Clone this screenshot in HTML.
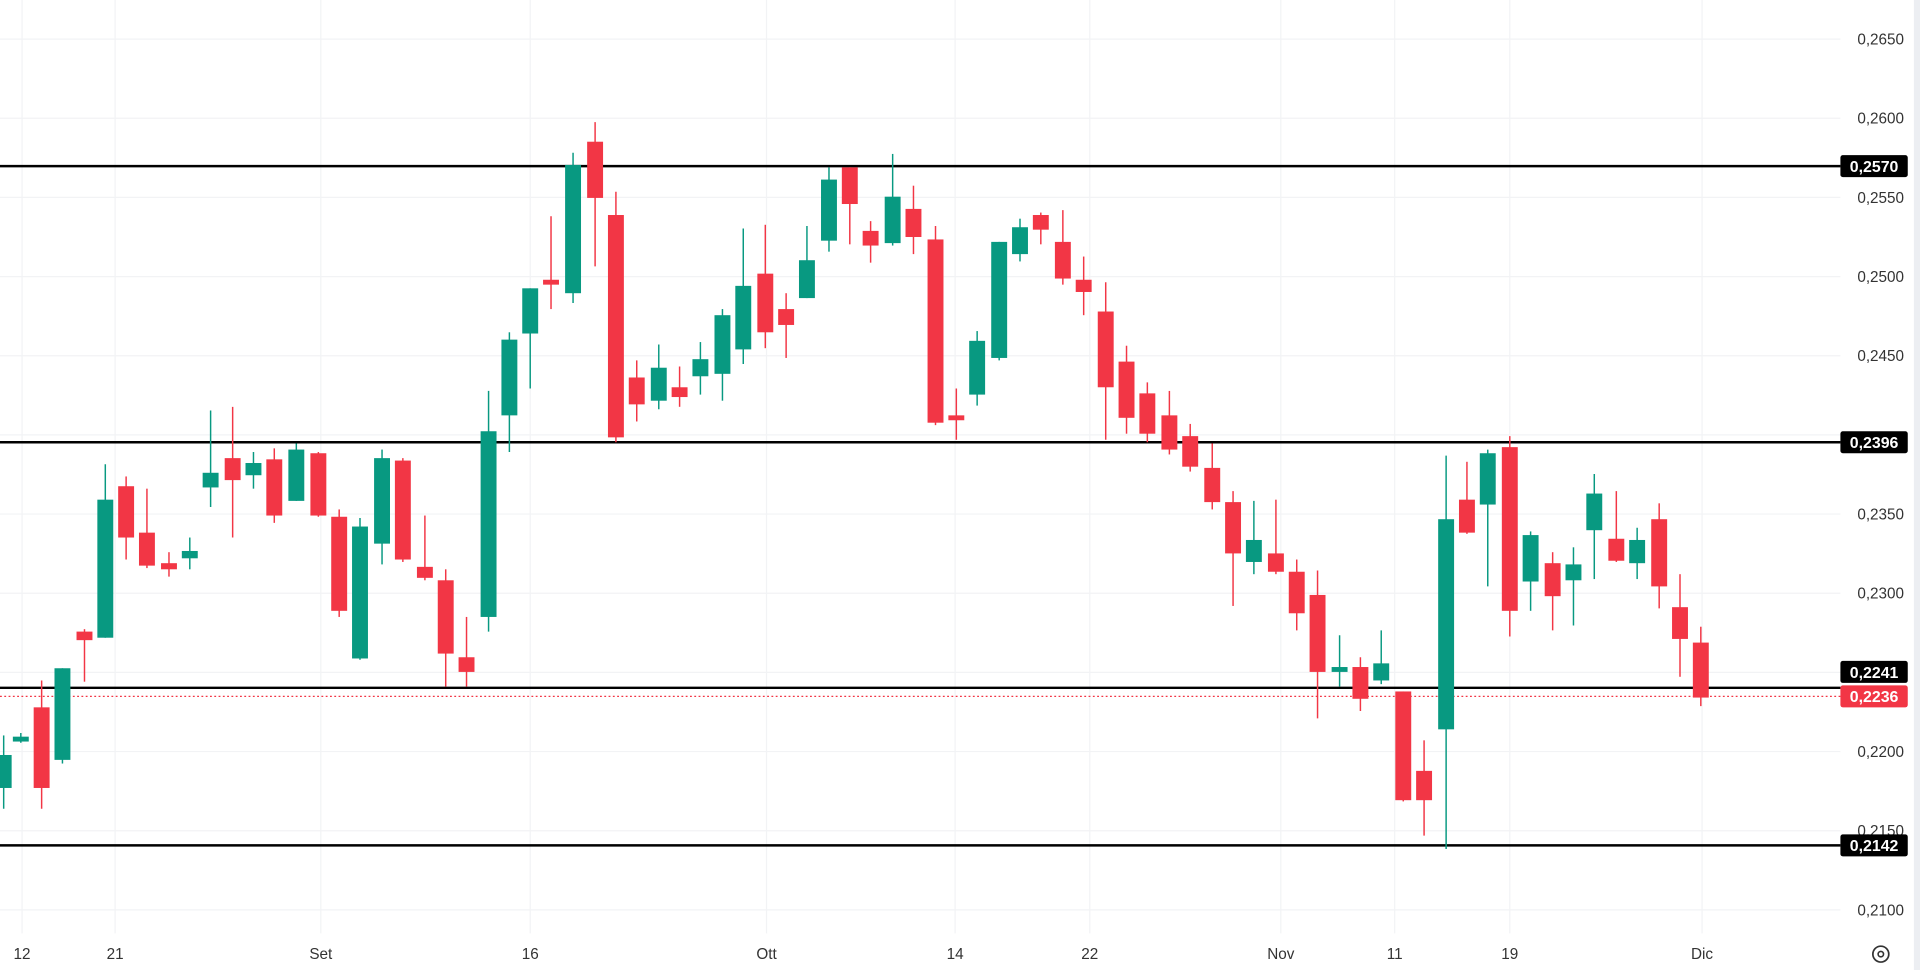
<!DOCTYPE html>
<html><head><meta charset="utf-8"><style>
html,body{margin:0;padding:0;background:#fff;overflow:hidden}
svg{display:block}
text{font-family:"Liberation Sans",sans-serif}
</style></head><body>
<svg id="s" width="1920" height="970" viewBox="0 0 1568 794" preserveAspectRatio="none" xmlns="http://www.w3.org/2000/svg">
<rect width="1568" height="794" fill="#fff"/>
<g id="grid" stroke="#f2f3f5" stroke-width="1"></g>
<g id="hl"></g>
<g id="c"></g>
<g id="lab"></g>
</svg>
<script>
const NS="http://www.w3.org/2000/svg";
function el(p,t,a,txt){const e=document.createElementNS(NS,t);for(const k in a)e.setAttribute(k,a[k]);if(txt!==undefined)e.textContent=txt;document.getElementById(p).appendChild(e);return e;}
const yp=p=>32+(0.2650-p)/0.005*64.8;
// grid horizontal
[0.2650,0.2600,0.2550,0.2500,0.2450,0.2400,0.2350,0.2300,0.2250,0.2200,0.2150,0.2100].forEach(p=>{
 const y=yp(p);el('grid','line',{x1:0,x2:1503,y1:y,y2:y});
 if([0.2400,0.2250].indexOf(p)<0) el('lab','text',{x:1555,y:y+4.5,'font-size':12.5,fill:'#333','text-anchor':'end'},p.toFixed(4).replace('.',','));
});
// vertical grid + date labels
[[18,'12'],[94,'21'],[262,'Set'],[433,'16'],[626,'Ott'],[780,'14'],[890,'22'],[1046,'Nov'],[1139,'11'],[1233,'19'],[1390,'Dic']].forEach(d=>{
 el('grid','line',{x1:d[0],x2:d[0],y1:0,y2:764});
 el('lab','text',{x:d[0],y:785,'font-size':12.5,fill:'#333','text-anchor':'middle'},d[1]);
});
// horizontal levels
[136,362,563,692].forEach(y=>el('hl','line',{x1:0,x2:1503,y1:y,y2:y,stroke:'#000','stroke-width':2}));
el('hl','line',{x1:0,x2:1503,y1:570,y2:570,stroke:'#f23645','stroke-width':1,'stroke-dasharray':'1.5,2'});
// candles: x, color, bodyTop, bodyBot, wickTop, wickBot
const C=[
[3,'g',618,645,602,662],[17,'g',603,607,600,608],[34,'r',579,645,557,662],[51,'g',547,622,547,625],[69,'r',517,524,515,558],
[86,'g',409,522,380,522],[103,'r',398,440,390,458],[120,'r',436,463,400,465],[138,'r',461,466,452,472],[155,'g',451,457,440,466],
[172,'g',387,399,336,415],[190,'r',375,393,333,440],[207,'g',379,389,370,400],[224,'r',376,422,367,428],[242,'g',368,410,363,410],
[260,'r',371,422,370,423],[277,'r',423,500,417,505],[294,'g',431,539,424,540],[312,'g',375,445,368,462],[329,'r',377,458,375,460],
[347,'r',464,473,422,475],[364,'r',475,535,466,562],[381,'r',538,550,505,562],[399,'g',353,505,320,517],[416,'g',278,340,272,370],
[433,'g',236,273,236,318],[450,'r',229,233,177,253],[468,'g',135,240,125,248],[486,'r',116,162,100,218],[503,'r',176,358,157,362],
[520,'r',309,331,295,345],[538,'g',301,328,282,335],[555,'r',317,325,300,333],[572,'g',294,308,280,323],[590,'g',258,306,253,328],
[607,'g',234,286,187,298],[625,'r',224,272,184,285],[642,'r',253,266,240,293],[659,'g',213,244,185,244],[677,'g',147,197,137,206],
[694,'r',137,167,137,200],[711,'r',189,201,181,215],[729,'g',161,199,126,201],[746,'r',171,194,152,208],[764,'r',196,346,185,348],
[781,'r',340,344,318,360],[798,'g',279,323,271,332],[816,'g',198,293,198,295],[833,'g',186,208,179,214],[850,'r',176,188,174,200],
[868,'r',198,228,172,233],[885,'r',229,239,210,258],[903,'r',255,317,231,360],[920,'r',296,342,283,355],[937,'r',322,355,313,362],
[955,'r',340,368,320,372],[972,'r',357,382,347,386],[990,'r',383,411,363,417],[1007,'r',411,453,402,496],[1024,'g',442,460,410,470],
[1042,'r',453,468,409,470],[1059,'r',468,502,458,516],[1076,'r',487,550,467,588],[1094,'g',546,550,520,562],[1111,'r',546,572,538,582],
[1128,'g',543,557,516,560],[1146,'r',566,655,566,656],[1163,'r',631,655,606,684],[1181,'g',425,597,373,695],[1198,'r',409,436,378,437],
[1215,'g',371,413,368,480],[1233,'r',366,500,357,521],[1250,'g',438,476,435,500],[1268,'r',461,488,452,516],[1285,'g',462,475,448,512],
[1302,'g',404,434,388,474],[1320,'r',441,459,402,460],[1337,'g',442,461,432,474],[1355,'r',425,480,412,498],[1372,'r',497,523,470,554],
[1389,'r',526,571,513,578]];
C.forEach(c=>{const col=c[1]=='g'?'#089981':'#f23645';
 el('c','line',{x1:c[0],x2:c[0],y1:c[4],y2:c[5],stroke:col,'stroke-width':1.2});
 el('c','rect',{x:c[0]-6.5,y:c[2],width:13,height:Math.max(2,c[3]-c[2]),fill:col});
});
// right labels
[[136,'0,2570','#000'],[362,'0,2396','#000'],[550,'0,2241','#000'],[570,'0,2236','#f23645'],[692,'0,2142','#000']].forEach(l=>{
 el('lab','rect',{x:1503,y:l[0]-9,width:55,height:18,rx:2,fill:l[2]});
 el('lab','text',{x:1530.5,y:l[0]+4.8,'font-size':13,'font-weight':'bold',fill:'#fff','text-anchor':'middle'},l[1]);
});
// gear icon
el('lab','circle',{cx:1536,cy:781,r:6.5,fill:'none',stroke:'#333','stroke-width':1.4});
el('lab','circle',{cx:1536,cy:781,r:2.2,fill:'none',stroke:'#333','stroke-width':1.3});
el('lab','rect',{x:1563,y:0,width:5,height:794,fill:'#eceef2'});
</script>
</body></html>
